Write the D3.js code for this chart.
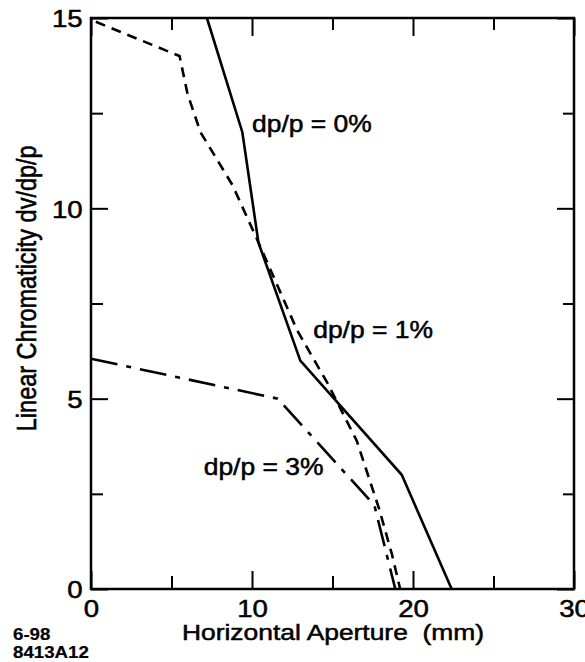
<!DOCTYPE html>
<html lang="en">
<head>
<meta charset="UTF-8">
<title>Linear Chromaticity</title>
<script src="https://d3js.org/d3.v7.min.js"></script>
<style>
body { margin: 0; background: #fff; }
svg text { font-family: "Liberation Sans", Arial, Helvetica, sans-serif; fill: #000; stroke: #000; stroke-width: 0.5px; }
</style>
</head>
<body>
<svg id="chart" width="585" height="662"></svg>
<script>
// curves: [aperture mm, chromaticity]
var dp0 = [[7.2, 15], [9.4, 12], [10.4, 9.1], [13.0, 6.0], [19.3, 3.0], [22.4, 0]]
var dp1 = [[0.3, 14.9], [5.5, 14.0], [6.0, 13.0], [6.8, 12.0], [8.8, 10.6], [10.3, 9.2],
           [12.8, 6.8], [14.7, 5.4], [16.5, 3.9], [17.9, 2.1], [18.7, 0.9], [19.2, 0]]
var dp3 = [[0, 6.05], [11.6, 5.0], [17.6, 2.2], [18.9, 0]]

var curveNames = ['dp/p = 0%', 'dp/p = 1%', 'dp/p = 3%']
var labelPos = [[10.0, 12.0], [13.8, 6.6], [7.0, 3.0]]
var dashes = [null, '10,7', '27,9,5,9']

var xMajor = [0, 10, 20, 30], xMinor = [5, 15, 25]
var yMajor = [0, 5, 10, 15], yMinor = [2.5, 7.5, 12.5]

var svg = d3.select('#chart')
// plot box (note: "top" is reserved on window, so use pTop etc.)
var pLeft = 91, pRight = 574, pTop = 18, pBottom = 589
var sx = 1.2  // the scan is stretched sideways

var x = d3.scaleLinear().domain([0, 30]).range([pLeft, pRight])
var y = d3.scaleLinear().domain([0, 15]).range([pBottom, pTop])

function styleAxis(g) {
  g.select('.domain').remove()
  g.selectAll('line').attr('stroke', '#000').attr('stroke-width', 2)
  g.selectAll('text').style('font-size', '23px')
}

// minor ticks (no labels)
svg.append('g').attr('transform', 'translate(0,' + pBottom + ')')
  .call(d3.axisBottom(x).tickValues(xMinor).tickSize(-13).tickFormat(''))
  .call(styleAxis)
svg.append('g').attr('transform', 'translate(0,' + pTop + ')')
  .call(d3.axisTop(x).tickValues(xMinor).tickSize(-12).tickFormat(''))
  .call(styleAxis)
svg.append('g').attr('transform', 'translate(' + pLeft + ',0)')
  .call(d3.axisLeft(y).tickValues(yMinor).tickSize(-12).tickFormat(''))
  .call(styleAxis)
svg.append('g').attr('transform', 'translate(' + pRight + ',0)')
  .call(d3.axisRight(y).tickValues(yMinor).tickSize(-11).tickFormat(''))
  .call(styleAxis)

// major ticks
var xb = svg.append('g').attr('transform', 'translate(0,' + pBottom + ')')
  .call(d3.axisBottom(x).tickValues(xMajor).tickSize(-18).tickPadding(12).tickFormat(d3.format('d')))
  .call(styleAxis)
xb.selectAll('text').attr('transform', 'scale(' + sx + ',1)')

svg.append('g').attr('transform', 'translate(0,' + pTop + ')')
  .call(d3.axisTop(x).tickValues(xMajor).tickSize(-18).tickFormat(''))
  .call(styleAxis)

var yl = svg.append('g').attr('transform', 'translate(' + pLeft + ',0)')
  .call(d3.axisLeft(y).tickValues(yMajor).tickSize(-17).tickPadding(7).tickFormat(d3.format('d')))
  .call(styleAxis)
yl.selectAll('text').attr('transform', 'scale(' + sx + ',1)').attr('dy', '0.38em')

svg.append('g').attr('transform', 'translate(' + pRight + ',0)')
  .call(d3.axisRight(y).tickValues(yMajor).tickSize(-17).tickFormat(''))
  .call(styleAxis)

// frame
svg.append('rect')
  .attr('x', pLeft).attr('y', pTop)
  .attr('width', pRight - pLeft).attr('height', pBottom - pTop)
  .attr('fill', 'none').attr('stroke', '#000').attr('stroke-width', 2.5)

// curves
var line = d3.line().x(function(d) { return x(d[0]) }).y(function(d) { return y(d[1]) })
var curves = [dp0, dp1, dp3]
curves.forEach(function(c, i) {
  svg.append('path')
    .datum(c)
    .attr('d', line)
    .attr('fill', 'none')
    .attr('stroke', '#000')
    .attr('stroke-width', 2.6)
    .attr('stroke-dasharray', dashes[i])
})

// curve labels
curveNames.forEach(function(name, i) {
  svg.append('text')
    .attr('transform', 'translate(' + x(labelPos[i][0]) + ',' + y(labelPos[i][1]) + ') scale(1.15,1)')
    .style('font-size', '23px')
    .text(name)
})

// axis titles
svg.append('text')
  .attr('transform', 'translate(333,640) scale(' + sx + ',1)')
  .attr('text-anchor', 'middle')
  .style('font-size', '22px')
  .style('white-space', 'pre')
  .text('Horizontal Aperture  (mm)')

svg.append('text')
  .attr('transform', 'translate(36,' + y(7.9) + ') scale(' + sx + ',1) rotate(-90)')
  .attr('text-anchor', 'middle')
  .style('font-size', '23.5px')
  .text('Linear Chromaticity dv/dp/p')

// figure id in the corner
var ids = ['6-98', '8413A12']
ids.forEach(function(t, i) {
  svg.append('text')
    .attr('transform', 'translate(13,' + (640 + i * 18) + ') scale(1.1,1)')
    .style('font-size', '17px')
    .style('font-weight', 'bold')
    .style('stroke-width', '0.2px')
    .text(t)
})
</script>
</body>
</html>
